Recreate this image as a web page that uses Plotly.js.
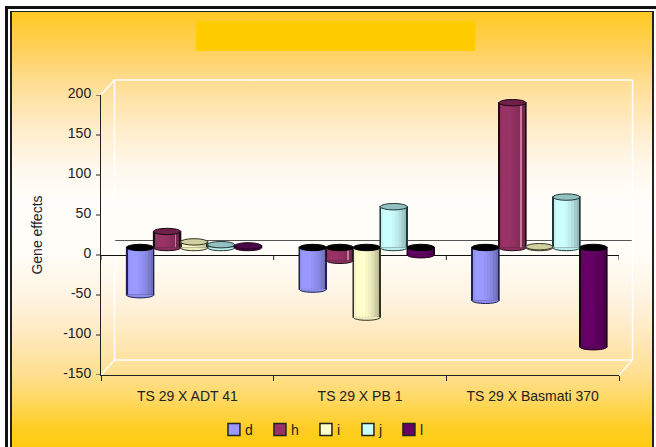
<!DOCTYPE html>
<html>
<head>
<meta charset="utf-8">
<title>Gene effects</title>
<script src="https://cdn.plot.ly/plotly-3.0.1.min.js"></script>
<style>
  html, body { margin: 0; padding: 0; background: #fff; width: 656px; height: 447px; overflow: hidden; }
  #outer { position: absolute; left: 5px; top: 6px; width: 651px; height: 441px; background: #111; }
  #inner { position: absolute; left: 3px; top: 3px; width: 648px; height: 438px; background: #fff; }
  #panel { position: absolute; left: 2px; top: 2px; width: 640px; height: 436px; border-left: 2px solid #222; border-top: 1px solid #222; border-right: 2px solid #222;
           background: linear-gradient(to bottom, #ffca22 0px, #ffd15c 38px, #ffdc90 68px, #ffe3a8 88px, #ffeece 121px, #fff8ec 155px, #fffdf9 188px,
                       #fffdf8 240px, #fff3e0 288px, #ffe7b8 328px, #ffdf8f 363px, #ffd860 388px, #ffcd20 418px, #ffcb10 435px); }
  #chart { position: absolute; left: 0; top: 0; width: 656px; height: 447px; }
  .legendtext { transform: translateX(-9px); }
  .ytick { transform: translateY(-2px); }
</style>
</head>
<body>
<div id="outer"><div id="inner"><div id="panel"></div></div></div>
<div id="chart"></div>
<script>
// Crosses on the category axis and the five gene-effect series.
const crosses = ['TS 29 X ADT 41', 'TS 29 X PB 1', 'TS 29 X Basmati 370'];
const d = [-59, -52, -66];
const h = [20, -16, 181];
const i = [7, -87, 1];
const j = [3.5, 51, 63];
const l = [2, -9, -124];

const names = ['d', 'h', 'i', 'j', 'l'];
const seriesValues = [d, h, i, j, l];
const baseColors = ['#9999ff', '#993366', '#ffffcc', '#ccffff', '#660066'];
const capColors = ['#7a7acc', '#6e2049', '#cfcfa0', '#93c0c0', '#4a0a4a'];
const edgeColors = ['#1f1f55', '#1c0a14', '#33331f', '#1f3838', '#1a001a'];

const yTickValues = [-150, -100, -50, 0, 50, 100, 150, 200];
const yTickLabels = ['-150', '-100', '-50', '0', '50', '100', '150', '200'];

// Horizontal shading across a cylinder, left to right.
const shading = [0.95, 1, 1, 1, 0.97, 0.93, 0.88, 0.8, 0.72];

// Plot geometry in pixels.
const plotLeft = 100.5, plotRight = 618.7, plotTop = 95, plotBottom = 375;
const plotW = plotRight - plotLeft, plotH = plotBottom - plotTop;
const yMin = -150, yMax = 200;
const depthX = 13.5, depthY = 15;           // depth of the box
const unitsPerPx = (yMax - yMin) / plotH;
const catPerPx = crosses.length / plotW;

// The cylinders stand half way into the box: they use a second pair of axes
// shifted by half the depth.
const shiftX = depthX / 2 * catPerPx;
const shiftY = depthY / 2 * unitsPerPx;
const barPx = 27;
const barW = barPx * catPerPx;
const capRx = 13.5, capRy = 3.2;

function tint(hex, f) {
  const n = parseInt(hex.slice(1), 16);
  const c = [n >> 16, (n >> 8) & 255, n & 255].map(v => Math.round(v * f));
  return 'rgb(' + c.join(',') + ')';
}

const traces = [];
const shapes = [];

names.forEach((name, s) => {
  const left = (s - 2.5) * barW;
  // Base bar: carries the legend entry and outline.
  traces.push({
    type: 'bar', name: name, x: crosses, y: seriesValues[s], xaxis: 'x2', yaxis: 'y2',
    offset: left, width: barW,
    marker: { color: baseColors[s], line: { color: '#222', width: 1.5 } },
    hoverinfo: 'y+name', legendgroup: name
  });
  const n = shading.length;
  shading.forEach((f, k) => {
    traces.push({
      type: 'bar', x: crosses, y: seriesValues[s], xaxis: 'x2', yaxis: 'y2',
      offset: left + k * barW / n, width: barW / n + 0.2 * catPerPx,
      marker: { color: tint(baseColors[s], f), line: { width: 0 } },
      showlegend: false, hoverinfo: 'skip', legendgroup: name
    });
  });
  // Side edges of each cylinder.
  [0, barPx - 0.6].forEach(px => {
    traces.push({
      type: 'bar', x: crosses, y: seriesValues[s], xaxis: 'x2', yaxis: 'y2',
      offset: left + px * catPerPx, width: 0.6 * catPerPx,
      marker: { color: edgeColors[s], line: { width: 0 } },
      showlegend: false, hoverinfo: 'skip', legendgroup: name
    });
  });
  if (name === 'h') {
    // Highlight running down the right of the maroon cylinders.
    traces.push({
      type: 'bar', x: crosses, y: h, xaxis: 'x2', yaxis: 'y2',
      offset: left + 21.5 * catPerPx, width: 0.8 * catPerPx,
      marker: { color: '#c07c98', line: { width: 0 } },
      showlegend: false, hoverinfo: 'skip', legendgroup: name
    });
  }
});

// Rounded ends and caps, anchored on the axes at each value.
names.forEach((name, s) => {
  seriesValues[s].forEach((v, c) => {
    const cx = c + (s - 2) * barW;
    const lowEnd = Math.min(v, 0), highEnd = Math.max(v, 0);
    const k = capRy * 4 / 3;
    shapes.push({
      type: 'path', xref: 'x2', yref: 'y2', xsizemode: 'pixel', ysizemode: 'pixel',
      xanchor: cx, yanchor: lowEnd,
      path: 'M' + (-capRx) + ',0 C' + (-capRx) + ',' + (-k) + ' ' + capRx + ',' + (-k) + ' ' + capRx + ',0',
      fillcolor: tint(baseColors[s], 0.92), line: { color: edgeColors[s], width: 1 }
    });
    shapes.push({
      type: 'circle', xref: 'x2', yref: 'y2', xsizemode: 'pixel', ysizemode: 'pixel',
      xanchor: cx, yanchor: highEnd, x0: -capRx, x1: capRx, y0: -capRy, y1: capRy,
      fillcolor: v < 0 ? '#000' : capColors[s], line: { color: v < 0 ? '#000' : edgeColors[s], width: 1 }
    });
  });
});

// Box: white back wall and floor corners, in fractions of the plot area.
const pxX = px => (px - plotLeft) / plotW;
const pxY = px => (plotBottom - px) / plotH;
const white = { color: '#ffffff', width: 1.5 };
const boxLine = (x0, y0, x1, y1, line) => ({
  type: 'line', xref: 'paper', yref: 'paper', layer: 'below',
  x0: pxX(x0), y0: pxY(y0), x1: pxX(x1), y1: pxY(y1), line: line
});
const wallL = plotLeft + depthX, wallR = plotRight + depthX, wallT = plotTop - depthY, wallB = plotBottom - depthY;
shapes.unshift(
  boxLine(wallL, wallT, wallR, wallT, white),
  boxLine(wallR, wallT, wallR, wallB, white),
  boxLine(wallL, wallB, wallR, wallB, white),
  boxLine(wallL, wallT, wallL, wallB, white),
  boxLine(plotLeft, plotTop, wallL, wallT, white),
  boxLine(plotLeft, plotBottom, wallL, wallB, white),
  boxLine(plotRight, plotBottom, wallR, wallB, white)
);
// Zero level on the back wall.
shapes.unshift({
  type: 'line', xref: 'paper', yref: 'y', layer: 'below',
  x0: pxX(wallL), x1: pxX(wallR), y0: (depthY - 0.5) * unitsPerPx, y1: (depthY - 0.5) * unitsPerPx,
  line: { color: '#555', width: 1 }
});
// Tick marks on the zero line.
[-0.5, 0.5, 1.5, 2.5].forEach(b => {
  shapes.unshift({
    type: 'line', xref: 'x', yref: 'y', ysizemode: 'pixel', yanchor: 0, layer: 'below',
    x0: b, x1: b, y0: 0, y1: -5, line: { color: '#222', width: 1 }
  });
});
// Empty title banner.
shapes.unshift({
  type: 'rect', xref: 'paper', yref: 'paper', layer: 'below',
  x0: pxX(195.5), x1: pxX(475), y0: pxY(21), y1: pxY(51), fillcolor: '#ffcc00', line: { width: 0 }
});

const font = { family: '"Liberation Sans", Arial, sans-serif', size: 14, color: '#222' };

const layout = {
  width: 656, height: 447,
  margin: { l: plotLeft, r: 656 - plotRight, t: plotTop, b: 447 - plotBottom, pad: 0, autoexpand: false },
  paper_bgcolor: 'rgba(0,0,0,0)', plot_bgcolor: 'rgba(0,0,0,0)',
  font: font, barmode: 'overlay', showlegend: true,
  xaxis: {
    type: 'category', categoryorder: 'array', categoryarray: crosses, range: [-0.5, 2.5],
    tickson: 'boundaries', ticks: 'outside', ticklen: 5, tickcolor: '#222', tickwidth: 1,
    showline: true, linecolor: '#222', linewidth: 1, showgrid: false, zeroline: false,
    ticklabelstandoff: 8, fixedrange: true, tickfont: font
  },
  yaxis: {
    range: [yMin, yMax], tickmode: 'array', tickvals: yTickValues, ticktext: yTickLabels,
    ticks: '', showline: true, linecolor: '#222', linewidth: 1, showgrid: false,
    zeroline: true, zerolinecolor: '#111', zerolinewidth: 1, ticklabelstandoff: 6,
    hoverformat: '.1f', fixedrange: true, tickfont: font,
    title: { text: 'Gene effects', font: font, standoff: 17 }
  },
  xaxis2: {
    type: 'category', categoryorder: 'array', categoryarray: crosses, overlaying: 'x', visible: false,
    range: [-0.5 - shiftX, 2.5 - shiftX], fixedrange: true
  },
  yaxis2: {
    overlaying: 'y', visible: false, range: [yMin - shiftY, yMax - shiftY], fixedrange: true
  },
  legend: {
    orientation: 'h', xanchor: 'left', yanchor: 'middle',
    x: pxX(213.5), y: pxY(430), bgcolor: 'rgba(0,0,0,0)', font: font,
    itemwidth: 30, entrywidth: 1, entrywidthmode: 'pixels', traceorder: 'normal'
  },
  shapes: shapes
};

// The y tick marks are drawn as shapes so the labels can sit slightly above them.
yTickValues.forEach(v => {
  layout.shapes.unshift({
    type: 'line', xref: 'paper', yref: 'y', x0: pxX(plotLeft - 5), x1: pxX(plotLeft), y0: v, y1: v,
    layer: 'below', line: { color: '#222', width: 1 }
  });
});

Plotly.newPlot('chart', traces, layout, { displayModeBar: false, responsive: false }).then(gd => {
  // Narrow labels take less room: pull the last two legend entries in.
  const pull = [0, 0, 0, 4, 9];
  gd.querySelectorAll('.legend .traces').forEach((el, n) => {
    const m = /translate\(([-\d.]+),\s*([-\d.]+)\)/.exec(el.getAttribute('transform') || '');
    if (m) el.setAttribute('transform', 'translate(' + (parseFloat(m[1]) - pull[n]) + ',' + m[2] + ')');
  });
});
</script>
</body>
</html>
